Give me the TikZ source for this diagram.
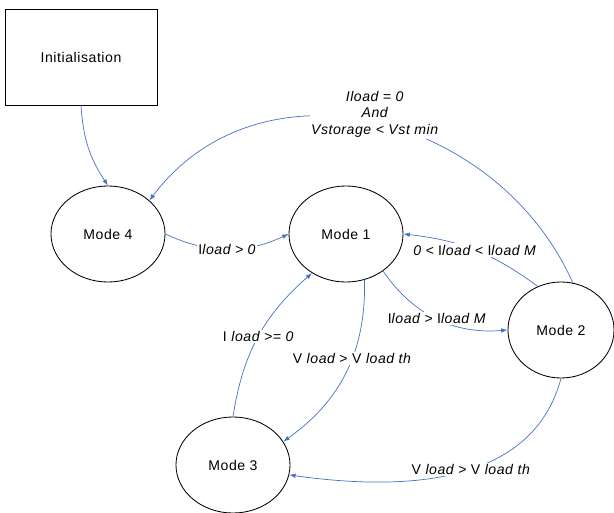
\documentclass[tikz,border=0pt]{standalone}
\usepackage{fontspec}
\setmainfont{Liberation Sans}[LetterSpace=4]
\usetikzlibrary{arrows.meta,shapes.geometric}
\definecolor{linkblue}{RGB}{68,114,196}

\begin{document}
\begin{tikzpicture}[x=0.025cm, y=0.025cm, line width=0.6pt,
        state/.style={draw, ellipse, minimum width=2.85cm, minimum height=2.4cm, inner sep=0pt},
        link/.style={draw=linkblue, line width=0.5pt, -{Latex[length=4.5pt,width=3.2pt]}},
        cond/.style={fill=white, inner sep=1pt, font=\itshape}]

        % Canvas of the reference (614 x 513 px)
        \useasboundingbox (0,0) rectangle (614,-513);

        % --- States ---
        \node[draw, minimum width=3.8cm, minimum height=2.4cm] (init) at (81,-57) {Initialisation};
        \node[state] (m4) at (108,-234) {Mode 4};
        \node[state] (m1) at (346,-234) {Mode 1};
        \node[state, minimum width=2.65cm] (m2) at (561,-330) {Mode 2};
        \node[state] (m3) at (233,-465) {Mode 3};

        % --- Start up ---
        \draw[link] (init.south) to[bend right=15] (m4.north);

        % --- Leaving Mode 4 / back to Mode 4 ---
        \draw[link] (m4.east) to[bend right=25] node[cond] {{\upshape I}load > 0} (m1.west);
        \draw[link] (m2.76) to[out=114, in=53, looseness=1.1]
            node[cond, align=center, yshift=6] {Iload = 0\\And\\Vstorage < Vst min} (m4.39);

        % --- Mode 1 <-> Mode 2 ---
        \draw[link] (m1.315) to[bend right=30] node[cond] {{\upshape I}load > {\upshape I}load M} (m2.west);
        \draw[link] (m2.118) to[bend right=15] node[cond] {0 < {\upshape I}load < {\upshape I}load M} (m1.east);

        % --- Mode 3 ---
        \draw[link] (m3.north) to[bend left=20] node[cond] {{\upshape I }load >= 0} (m1.229);
        \draw[link] (m1.292) to[bend left=28] node[cond, pos=0.42] {{\upshape V }load {\upshape > V }load th} (m3.25);
        \draw[link] (m2.south) to[out=-105, in=-8] node[cond, pos=0.45] {{\upshape V }load {\upshape > V }load th} (m3.350);

    \end{tikzpicture}
\end{document}
